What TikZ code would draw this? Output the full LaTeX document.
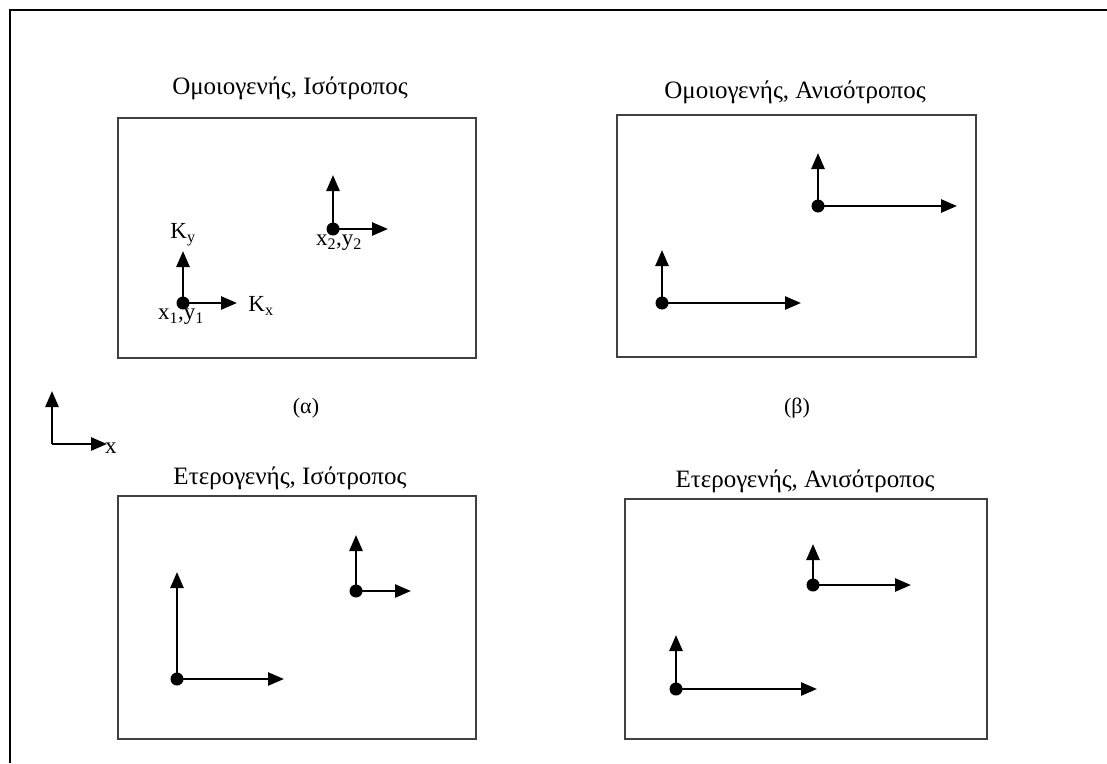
\documentclass[tikz,border=0pt]{standalone}
\usepackage{fontspec}
\setmainfont{Liberation Serif}
\usetikzlibrary{arrows.meta}
\begin{document}
\begin{tikzpicture}[x=1pt,y=-1pt,
  panel/.style={draw=black!75,line width=1.8pt},
  frame/.style={draw=black,line width=2.6pt},
  vec/.style={line width=2.6pt,-{Triangle[length=16pt,width=13pt]}},
  dot/.style={circle,fill=black,inner sep=0pt,minimum size=13pt},
  lbl/.style={font=\fontsize{25}{29}\selectfont,inner sep=0pt},
  caplbl/.style={font=\fontsize{22}{26}\selectfont,inner sep=0pt},
  sml/.style={font=\fontsize{23}{27}\selectfont,inner sep=0pt}]
\useasboundingbox (0,0) rectangle (1107,763);
% outer frame, open to the right and bottom
\draw[frame] (10,763) -- (10,10) -- (1107,10);

% panels
\draw[panel] (118,118) rectangle (476,358);
\draw[panel] (617,115) rectangle (976,357);
\draw[panel] (118,496) rectangle (476,739);
\draw[panel] (625,499) rectangle (987,739);

% titles and captions
\node[lbl] (ta) at (290,88) {Ομοιογενής, Ισότροπος};
\node[lbl] (tb) at (795,92) {Ομοιογενής, Ανισότροπος};
\node[lbl] (tc) at (290,478) {Ετερογενής, Ισότροπος};
\node[lbl] (td) at (805,481) {Ετερογενής, Ανισότροπος};
\node[caplbl] (ca) at (306,408) {(α)};
\node[caplbl] (cb) at (797,408) {(β)};

% reference axes
\coordinate (o) at (52,444);
\coordinate (oy) at (52,391);
\coordinate (ox) at (107,444);
\draw[vec] (o) -- (oy);
\draw[vec] (o) -- (ox);
\node[sml,anchor=west] (xl) at (105,448) {x};

% (a) homogeneous, isotropic
\node[dot] (a1) at (183,303) {};
\coordinate (a1y) at (183,251);
\coordinate (a1x) at (237,303);
\draw[vec] (a1.center) -- (a1y);
\draw[vec] (a1.center) -- (a1x);
\node[sml] (ky) at (183,235) {K\textsubscript{y}};
\node[sml] (kx) at (261,306) {K\textsubscript{x}};
\node[sml] (p1) at (181,317) {x\textsubscript{1},y\textsubscript{1}};
\node[dot] (a2) at (333,229) {};
\coordinate (a2y) at (333,175);
\coordinate (a2x) at (388,229);
\draw[vec] (a2.center) -- (a2y);
\draw[vec] (a2.center) -- (a2x);
\node[sml] (p2) at (339,243) {x\textsubscript{2},y\textsubscript{2}};

% (b) homogeneous, anisotropic
\node[dot] (b1) at (662,303) {};
\coordinate (b1y) at (662,250);
\coordinate (b1x) at (801,303);
\draw[vec] (b1.center) -- (b1y);
\draw[vec] (b1.center) -- (b1x);
\node[dot] (b2) at (818,206) {};
\coordinate (b2y) at (818,153);
\coordinate (b2x) at (957,206);
\draw[vec] (b2.center) -- (b2y);
\draw[vec] (b2.center) -- (b2x);

% (c) heterogeneous, isotropic
\node[dot] (c1) at (177,679) {};
\coordinate (c1y) at (177,572);
\coordinate (c1x) at (284,679);
\draw[vec] (c1.center) -- (c1y);
\draw[vec] (c1.center) -- (c1x);
\node[dot] (c2) at (356,591) {};
\coordinate (c2y) at (356,535);
\coordinate (c2x) at (411,591);
\draw[vec] (c2.center) -- (c2y);
\draw[vec] (c2.center) -- (c2x);

% (d) heterogeneous, anisotropic
\node[dot] (d1) at (676,689) {};
\coordinate (d1y) at (676,635);
\coordinate (d1x) at (817,689);
\draw[vec] (d1.center) -- (d1y);
\draw[vec] (d1.center) -- (d1x);
\node[dot] (d2) at (813,585) {};
\coordinate (d2y) at (813,544);
\coordinate (d2x) at (911,585);
\draw[vec] (d2.center) -- (d2y);
\draw[vec] (d2.center) -- (d2x);
\end{tikzpicture}
\end{document}
